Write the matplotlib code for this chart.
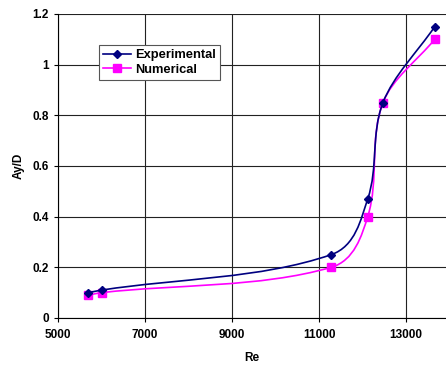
import numpy as np
from matplotlib import pyplot as plt
from matplotlib.path import Path
from matplotlib.patches import PathPatch
from matplotlib.lines import Line2D

plt.rcParams['font.family'] = ['Liberation Sans', 'DejaVu Sans']
plt.rcParams['font.weight'] = 'bold'

# data
re_exp = [5700, 6000, 11280, 12120, 12470, 13660]
ay_exp = [0.10, 0.11, 0.25, 0.47, 0.85, 1.15]
re_num = [5700, 6000, 11280, 12120, 12470, 13660]
ay_num = [0.09, 0.10, 0.20, 0.40, 0.85, 1.10]
xticks = [5000, 7000, 9000, 11000, 13000]
yticks = [0, 0.2, 0.4, 0.6, 0.8, 1.0, 1.2]
ytick_labels = ['0', '0.2', '0.4', '0.6', '0.8', '1', '1.2']

XMAX = 5000 + 388 / 87 * 2000


# smooth line like excel: bezier with tangents scaled to the segment lengths
def smooth_path(x, y):
    sx = np.array([XMAX - 5000, 1.2])
    p = np.column_stack([x, y]).astype(float) / sx
    n = len(p)
    tang = []
    for i in range(n):
        a = p[i - 1] if i > 0 else p[i]
        b = p[i + 1] if i + 1 < n else p[i]
        d = b - a
        tang.append(d / np.linalg.norm(d))
    verts = [p[0]]
    codes = [Path.MOVETO]
    for i in range(n - 1):
        L = np.linalg.norm(p[i + 1] - p[i]) / 3.0
        verts += [p[i] + tang[i] * L, p[i + 1] - tang[i + 1] * L, p[i + 1]]
        codes += [Path.CURVE4] * 3
    verts = np.array(verts) * sx
    return Path(verts, codes)


fig = plt.figure(figsize=(4.46, 3.65), dpi=100)
ax = fig.add_axes([58 / 446, 47 / 365, 388 / 446, 304 / 365])

ax.add_patch(PathPatch(smooth_path(re_num, ay_num), fc='none', ec='#ff00ff', lw=1.2, zorder=3))
ax.plot(re_num, ay_num, ls='none', marker='s', ms=5.5, color='#ff00ff', zorder=4)
ax.add_patch(PathPatch(smooth_path(re_exp, ay_exp), fc='none', ec='#000080', lw=1.2, zorder=5))
ax.plot(re_exp, ay_exp, ls='none', marker='D', ms=4, color='#000080', zorder=6)

ax.set_xlim(5000, XMAX)
ax.set_ylim(0, 1.2)
ax.set_xticks(xticks)
ax.set_xticklabels([str(t) for t in xticks])
ax.set_yticks(yticks)
ax.set_yticklabels(ytick_labels)
ax.tick_params(labelsize=8.5, length=3, width=0.8, direction='out', colors='black')
ax.tick_params(axis='x', pad=5)
ax.grid(True, color='#222222', lw=0.8)
ax.set_axisbelow(True)
ax.spines['right'].set_visible(False)
ax.spines['top'].set_visible(False)
ax.set_xlabel('Re', fontsize=8.5, fontweight='bold', labelpad=8)
ax.set_ylabel('Ay/D', fontsize=8.5, fontweight='bold', labelpad=6)

handles = [Line2D([], [], color='#000080', marker='D', ms=4, lw=1.2),
           Line2D([], [], color='#ff00ff', marker='s', ms=5.5, lw=1.2)]
leg = ax.legend(handles, ['Experimental', 'Numerical'], loc='upper left',
                bbox_to_anchor=(0.105, 0.897), fontsize=9.3, fancybox=False,
                framealpha=1, edgecolor='#555555', handlelength=2.2,
                handletextpad=0.3, borderpad=0.3, labelspacing=0.2,
                borderaxespad=0)
leg.get_frame().set_linewidth(0.8)

fig.savefig('out.png', dpi=100)
